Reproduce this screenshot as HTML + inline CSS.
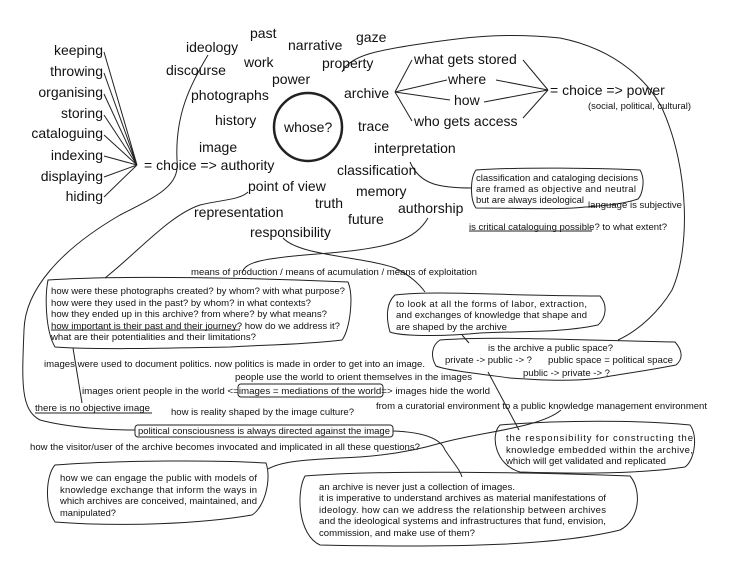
<!DOCTYPE html>
<html><head><meta charset="utf-8"><style>
html,body{margin:0;padding:0;background:#fff;overflow:hidden}
svg{display:block}
text{font-family:"Liberation Sans",sans-serif;fill:#111}
.w{font-size:14px}
.s{font-size:9.5px}
</style></head><body>
<svg width="733" height="575" viewBox="0 0 733 575" xmlns="http://www.w3.org/2000/svg">
<g fill="none" stroke="#222" stroke-width="1">
<path d="M104 52 L137 165 M104 73 L137 165 M104 94 L137 165 M104 115 L137 165 M104 135 L137 165 M104 156 L137 165 M104 177 L137 165 M104 197 L137 165"/>
<path d="M395 92 L412 60 M395 92 L447 80 M395 92 L450 100 M395 92 L412 121"/>
<path d="M523 60 L548 90 M496 80 L548 90 M484 102 L548 90 M523 118 L548 90"/>
<circle cx="308" cy="127" r="34" stroke-width="2.5"/>
<path d="M208 55 C190 85 175 115 177 160 C180 185 160 195 120 215 C60 250 25 290 24 330 C22 380 20 410 40 420 C70 428 110 430 135 430"/>
<path d="M342 72 C350 55 380 50 420 44 C460 38 500 32 560 38 C620 50 650 85 662 108 C690 170 690 250 672 290 C660 310 640 330 618 340"/>
<path d="M248 192 C240 200 220 200 200 205 C170 215 140 250 105 278"/>
<path d="M73 348 L82 403"/>
<path d="M410 162 C420 185 440 188 472 188"/>
<path d="M428 218 C415 240 390 248 330 253 C260 258 245 262 242 273"/>
<path d="M283 238 C300 256 360 256 395 268 C410 275 420 285 425 292"/>
<path d="M462 335 L469 343"/>
<path d="M488 372 L519 430"/>
<path d="M561 410 C540 428 480 432 441 443 C410 452 376 457 340 458 C300 460 280 462 268 469"/>
<path d="M393 431 C420 432 440 437 445 450 C455 465 460 470 462 477"/>
<path d="M476 170 C520 167 600 168 640 170 C646 180 642 195 638 199 C620 205 600 206 585 207 C560 210 520 208 476 208 C470 200 470 178 476 170Z"/>
<path d="M48 280 C120 275 260 278 348 282 C354 296 350 330 342 340 C300 345 260 345 230 347 C170 348 100 350 55 347 C45 330 45 295 48 280Z"/>
<path d="M395 295 C440 290 500 296 600 296 C608 305 606 318 598 325 C560 333 520 331 480 333 C440 337 400 336 390 332 C386 318 386 303 395 295Z"/>
<path d="M440 340 C500 336 570 340 675 342 C684 352 682 360 676 365 C640 372 620 374 600 378 C570 382 540 380 510 378 C480 374 445 370 436 366 C430 356 432 345 440 340Z"/>
<rect x="238" y="384" width="145" height="13" rx="3"/>
<path d="M35 413 L152 413"/>
<path d="M469 231 L592 231"/>
<path d="M51 330 L240 330"/>
<rect x="135" y="425" width="258" height="12" rx="3"/>
<path d="M500 425 C560 420 640 420 690 425 C698 435 695 460 685 467 C640 474 580 474 520 472 C495 465 490 435 500 425Z"/>
<path d="M55 465 C120 460 220 460 266 463 C272 480 264 508 252 515 C200 524 120 527 55 522 C44 505 46 475 55 465Z"/>
<path d="M305 476 C380 470 520 472 630 476 C642 490 640 520 620 530 C560 545 460 548 320 545 C298 535 296 492 305 476Z"/>
</g>
<g class="w">
<text x="103" y="55" text-anchor="end">keeping</text>
<text x="103" y="76" text-anchor="end">throwing</text>
<text x="103" y="97" text-anchor="end">organising</text>
<text x="103" y="118" text-anchor="end">storing</text>
<text x="103" y="138" text-anchor="end">cataloguing</text>
<text x="103" y="160" text-anchor="end">indexing</text>
<text x="103" y="181" text-anchor="end">displaying</text>
<text x="103" y="201" text-anchor="end">hiding</text>
<text x="144" y="170">= choice =&gt; authority</text>
<text x="250" y="38">past</text>
<text x="186" y="52">ideology</text>
<text x="288" y="50">narrative</text>
<text x="356" y="42">gaze</text>
<text x="166" y="75">discourse</text>
<text x="244" y="67">work</text>
<text x="322" y="68">property</text>
<text x="272" y="84">power</text>
<text x="191" y="100">photographs</text>
<text x="344" y="98">archive</text>
<text x="215" y="125">history</text>
<text x="284" y="132">whose?</text>
<text x="358" y="131">trace</text>
<text x="199" y="152">image</text>
<text x="374" y="153">interpretation</text>
<text x="337" y="175">classification</text>
<text x="248" y="191">point of view</text>
<text x="356" y="196">memory</text>
<text x="315" y="208">truth</text>
<text x="398" y="213">authorship</text>
<text x="194" y="217">representation</text>
<text x="348" y="224">future</text>
<text x="250" y="237">responsibility</text>
<text x="414" y="64">what gets stored</text>
<text x="448" y="84">where</text>
<text x="454" y="105">how</text>
<text x="414" y="126">who gets access</text>
<text x="550" y="95">= choice =&gt; power</text>
</g>
<g class="s">
<text x="588" y="109" textLength="103" lengthAdjust="spacingAndGlyphs">(social, political, cultural)</text>
<text x="476" y="181" textLength="162" lengthAdjust="spacingAndGlyphs">classification and cataloging decisions</text>
<text x="476" y="192" textLength="160" lengthAdjust="spacing">are framed as objective and neutral</text>
<text x="476" y="203" textLength="108" lengthAdjust="spacingAndGlyphs">but are always ideological</text>
<text x="588" y="208" textLength="94" lengthAdjust="spacingAndGlyphs">language is subjective</text>
<text x="469" y="230" textLength="198" lengthAdjust="spacingAndGlyphs">is critical cataloguing possible? to what extent?</text>
<text x="191" y="275" textLength="286" lengthAdjust="spacingAndGlyphs">means of production / means of acumulation / means of exploitation</text>
<text x="51" y="294" textLength="294" lengthAdjust="spacingAndGlyphs">how were these photographs created? by whom? with what purpose?</text>
<text x="51" y="306" textLength="260" lengthAdjust="spacingAndGlyphs">how were they used in the past? by whom? in what contexts?</text>
<text x="51" y="317" textLength="276" lengthAdjust="spacingAndGlyphs">how they ended up in this archive? from where? by what means?</text>
<text x="51" y="329" textLength="289" lengthAdjust="spacingAndGlyphs">how important is their past and their journey? how do we address it?</text>
<text x="51" y="340" textLength="205" lengthAdjust="spacingAndGlyphs">what are their potentialities and their limitations?</text>
<text x="396" y="307" textLength="191" lengthAdjust="spacing">to look at all the forms of labor, extraction,</text>
<text x="396" y="318" textLength="191" lengthAdjust="spacing">and exchanges of knowledge that shape and</text>
<text x="396" y="330" textLength="111" lengthAdjust="spacingAndGlyphs">are shaped by the archive</text>
<text x="488" y="351" textLength="125" lengthAdjust="spacingAndGlyphs">is the archive a public space?</text>
<text x="445" y="363" textLength="87" lengthAdjust="spacingAndGlyphs">private -&gt; public -&gt; ?</text>
<text x="548" y="363" textLength="125" lengthAdjust="spacingAndGlyphs">public space = political space</text>
<text x="523" y="376" textLength="87" lengthAdjust="spacingAndGlyphs">public -&gt; private -&gt; ?</text>
<text x="44" y="367" textLength="381" lengthAdjust="spacingAndGlyphs">images were used to document politics. now politics is made in order to get into an image.</text>
<text x="235" y="380" textLength="237" lengthAdjust="spacingAndGlyphs">people use the world to orient themselves in the images</text>
<text x="82" y="394" textLength="408" lengthAdjust="spacingAndGlyphs">images orient people in the world &lt;=images = mediations of the world=&gt; images hide the world</text>
<text x="35" y="411" textLength="115" lengthAdjust="spacingAndGlyphs">there is no objective image</text>
<text x="171" y="415" textLength="183" lengthAdjust="spacingAndGlyphs">how is reality shaped by the image culture?</text>
<text x="376" y="409" textLength="331" lengthAdjust="spacingAndGlyphs">from a curatorial environment to a public knowledge management environment</text>
<text x="138" y="434" textLength="252" lengthAdjust="spacingAndGlyphs">political consciousness is always directed against the image</text>
<text x="30" y="450" textLength="390" lengthAdjust="spacingAndGlyphs">how the visitor/user of the archive becomes invocated and implicated in all these questions?</text>
<text x="506" y="441" textLength="187" lengthAdjust="spacing">the responsibility for constructing the</text>
<text x="506" y="453" textLength="187" lengthAdjust="spacing">knowledge embedded within the archive,</text>
<text x="506" y="464" textLength="160" lengthAdjust="spacingAndGlyphs">which will get validated and replicated</text>
<text x="60" y="481" textLength="197" lengthAdjust="spacing">how we can engage the public with models of</text>
<text x="60" y="493" textLength="197" lengthAdjust="spacing">knowledge exchange that inform the ways in</text>
<text x="60" y="504" textLength="197" lengthAdjust="spacing">which archives are conceived, maintained, and</text>
<text x="60" y="516" textLength="56" lengthAdjust="spacingAndGlyphs">manipulated?</text>
<text x="319" y="490" textLength="196" lengthAdjust="spacingAndGlyphs">an archive is never just a collection of images.</text>
<text x="319" y="501" textLength="287" lengthAdjust="spacingAndGlyphs">it is imperative to understand archives as material manifestations of</text>
<text x="319" y="513" textLength="287" lengthAdjust="spacing">ideology. how can we address the relationship between archives</text>
<text x="319" y="524" textLength="287" lengthAdjust="spacingAndGlyphs">and the ideological systems and infrastructures that fund, envision,</text>
<text x="319" y="536" textLength="156" lengthAdjust="spacingAndGlyphs">commission, and make use of them?</text>
</g>
</svg>
</body></html>
